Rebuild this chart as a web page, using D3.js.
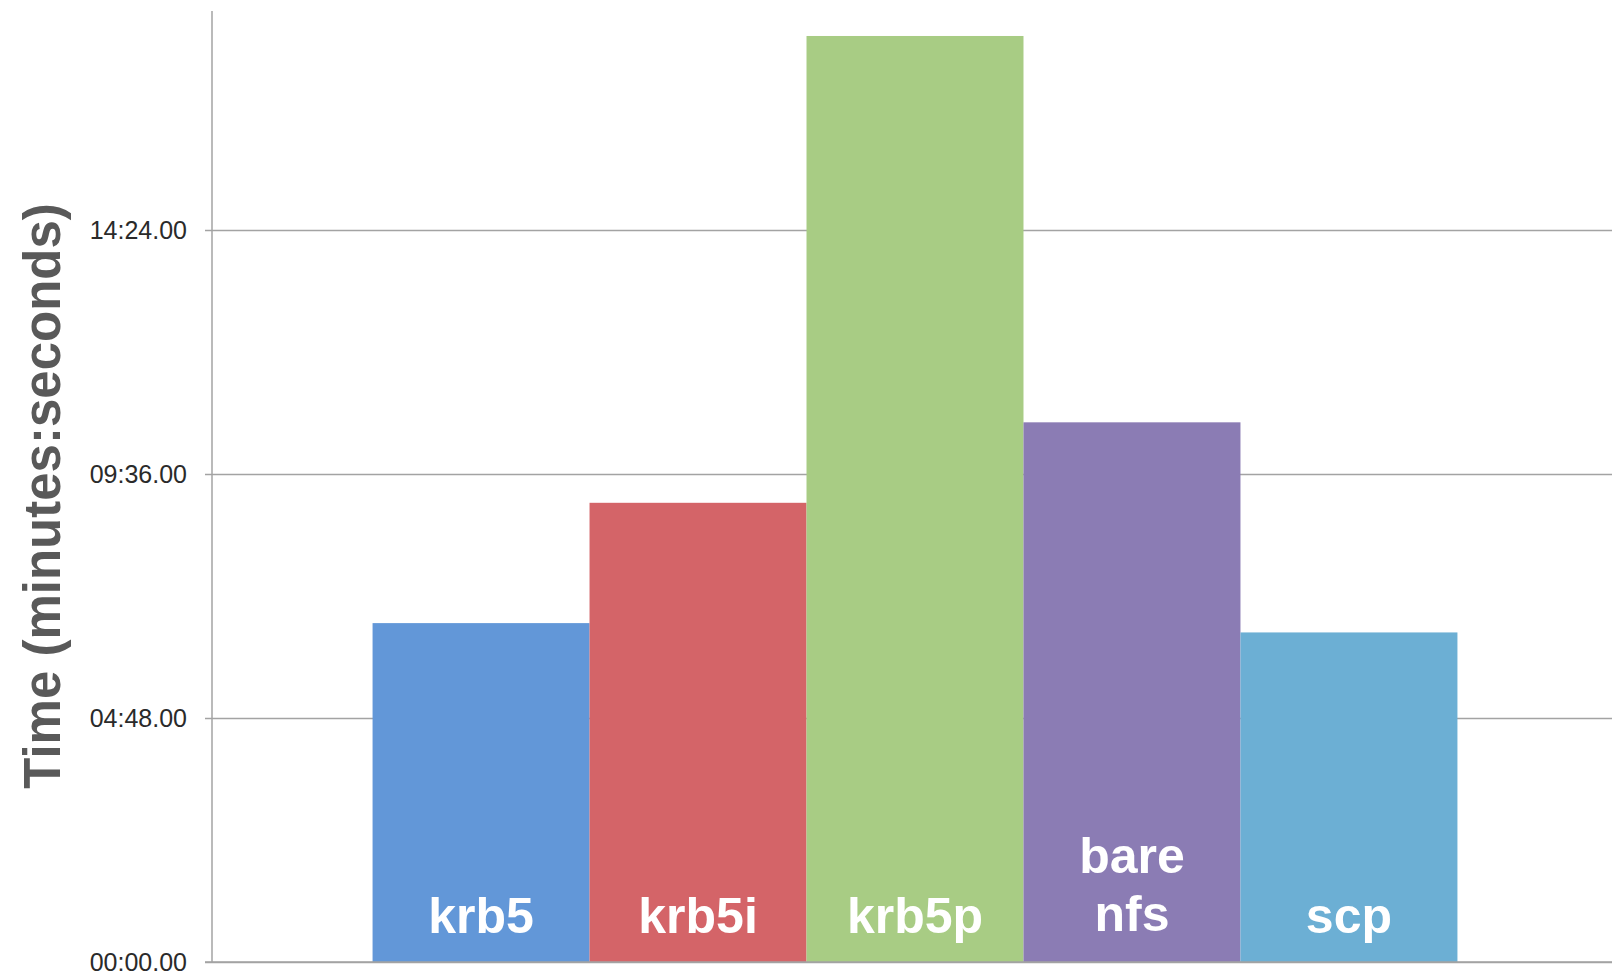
<!DOCTYPE html>
<html>
<head>
<meta charset="utf-8">
<script src="https://cdn.jsdelivr.net/npm/d3@7"></script>
<style>
  body { margin: 0; background: white; }
  svg { display: block; }
</style>
</head>
<body>
<svg id="chart" width="1612" height="972"></svg>
<script>
// times in seconds
var methods = ["krb5", "krb5i", "krb5p", "bare nfs", "scp"]
var times = [400, 542, 1093, 637, 389]
var colors = ["#6297d8", "#d46468", "#a8cc84", "#8b7cb4", "#6cafd4"]
var tickValues = [0, 288, 576, 864]

var W = 1612, H = 972
var axisX = 212, axisTop = 11

var svg = d3.select("#chart")

var x = d3.scaleBand()
  .domain(methods)
  .range([axisX, 1618])
  .paddingInner(0)
  .paddingOuter(0.74)

var y = d3.scaleLinear()
  .domain([0, 864])
  .range([962, 230])

function fmt(s) {
  var m = Math.floor(s / 60)
  var sec = s % 60
  return d3.format("02d")(m) + ":" + d3.format("02d")(sec) + ".00"
}

// gridlines + tick labels
var yAxis = d3.axisLeft(y)
  .tickValues(tickValues)
  .tickFormat(fmt)
  .tickSize(-(W - axisX))
  .tickPadding(0)

var gy = svg.append("g")
  .attr("transform", "translate(" + axisX + ",0)")
  .call(yAxis)

gy.select(".domain").remove()
gy.selectAll(".tick line")
  .attr("x1", -7)
  .attr("stroke", "#a3a3a3")
  .attr("stroke-width", 1.5)
gy.selectAll(".tick text")
  .attr("x", -25)
  .attr("fill", "#2a2a2a")
  .style("font-family", "Arial, 'Liberation Sans', sans-serif")
  .style("font-size", "25px")

// vertical axis line
svg.append("line")
  .attr("x1", axisX).attr("x2", axisX)
  .attr("y1", axisTop).attr("y2", y(0))
  .attr("stroke", "#a3a3a3")
  .attr("stroke-width", 1.5)

// bars
svg.selectAll(".bar")
  .data(methods)
  .enter().append("rect")
  .attr("class", "bar")
  .attr("x", function(d) { return x(d) })
  .attr("width", x.bandwidth())
  .attr("y", function(d, i) { return y(times[i]) })
  .attr("height", function(d, i) { return y(0) - y(times[i]) })
  .attr("fill", function(d, i) { return colors[i] })

// labels inside the bars
var labels = svg.selectAll(".lbl")
  .data(methods)
  .enter().append("text")
  .attr("class", "lbl")
  .attr("text-anchor", "middle")
  .attr("fill", "white")
  .style("font-family", "Arial, 'Liberation Sans', sans-serif")
  .style("font-weight", "bold")
  .style("font-size", "50px")

labels.each(function(d) {
  var words = d.split(" ")
  var cx = x(d) + x.bandwidth() / 2
  var base = words.length > 1 ? 931 : 933
  var t = d3.select(this)
  words.forEach(function(w, j) {
    t.append("tspan")
      .attr("x", cx)
      .attr("y", base - (words.length - 1 - j) * 58)
      .text(w)
  })
})

// baseline drawn over the bars' bottom edge
svg.append("line")
  .attr("x1", axisX - 7).attr("x2", W)
  .attr("y1", y(0)).attr("y2", y(0))
  .attr("stroke", "#a3a3a3")
  .attr("stroke-width", 1.5)

// y axis title
svg.append("text")
  .attr("transform", "translate(60," + 496 + ") rotate(-90)")
  .attr("text-anchor", "middle")
  .attr("fill", "#595959")
  .style("font-family", "Arial, 'Liberation Sans', sans-serif")
  .style("font-weight", "bold")
  .style("font-size", "51px")
  .text("Time (minutes:seconds)")
</script>
</body>
</html>
